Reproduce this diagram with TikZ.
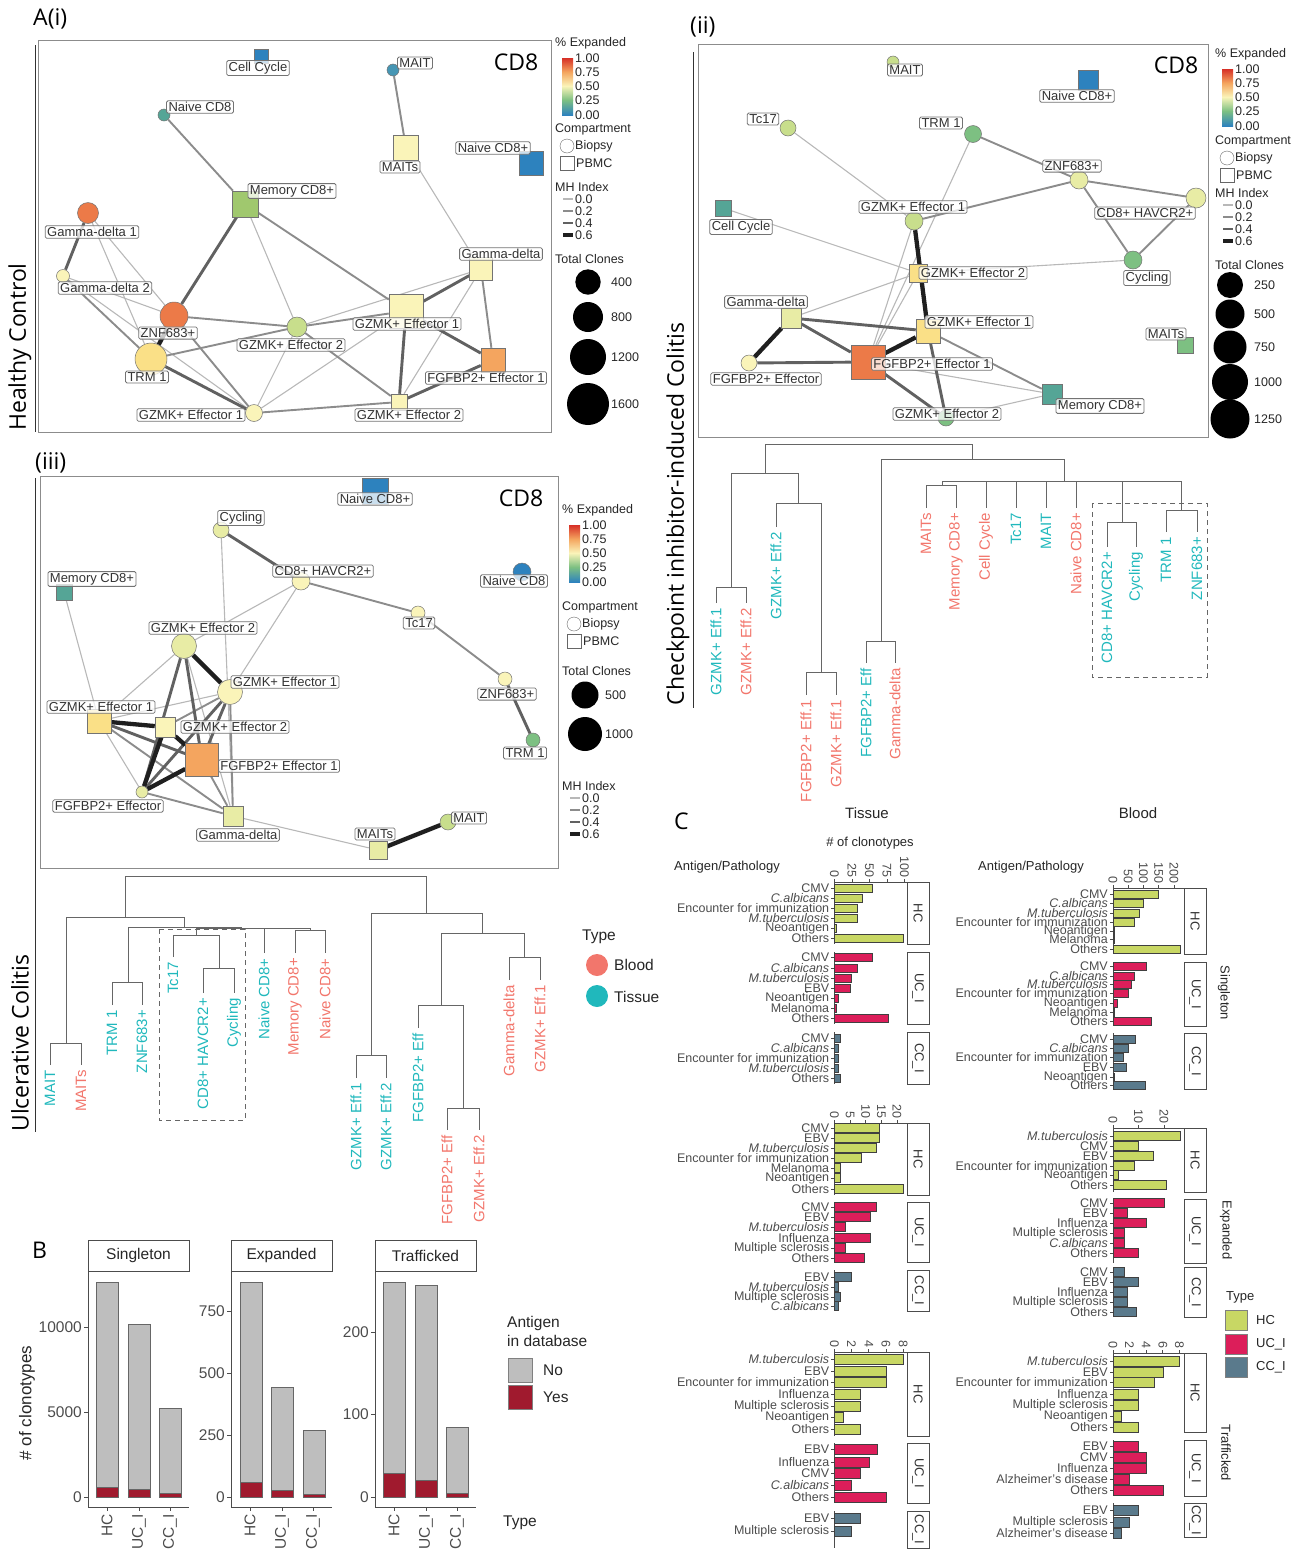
\documentclass[tikz,border=0pt]{standalone}
\usepackage{fontspec}
\setmainfont{Liberation Sans}
\newfontfamily\headfont{Open Sans}
\usetikzlibrary{backgrounds}
\definecolor{sp-blue}{RGB}{45,130,190}
\definecolor{sp-teal}{RGB}{85,165,150}
\definecolor{sp-cyan}{RGB}{70,150,180}
\definecolor{sp-green}{RGB}{125,192,130}
\definecolor{sp-lime}{RGB}{200,222,140}
\definecolor{sp-olive}{RGB}{160,200,110}
\definecolor{sp-pale}{RGB}{232,236,165}
\definecolor{sp-cream}{RGB}{250,244,185}
\definecolor{sp-yellow}{RGB}{250,224,135}
\definecolor{sp-orange}{RGB}{244,165,95}
\definecolor{sp-red}{RGB}{236,122,72}
\definecolor{sp-top}{RGB}{215,48,39}
\definecolor{cus-blood}{RGB}{242,118,108}
\definecolor{cus-tissue}{RGB}{32,184,188}
\definecolor{cus-grey}{RGB}{190,190,190}
\definecolor{cus-wine}{RGB}{160,26,46}
\definecolor{cus-hc}{RGB}{200,215,100}
\definecolor{cus-uc}{RGB}{220,30,90}
\definecolor{cus-cc}{RGB}{90,122,140}

\tikzset{
  bio/.style={circle, draw=black!55, line width=0.5pt, inner sep=0pt, minimum size=#1},
  pbmc/.style={rectangle, draw=black!55, line width=0.5pt, inner sep=0pt, minimum size=#1},
  tag/.style={draw=black!55, line width=0.8pt, rounded corners=1.5pt, fill=white, fill opacity=0.75, text opacity=1,
    inner xsep=2pt, inner ysep=1.5pt, text=black!80, font=\fontsize{13}{13}\selectfont},
  mh0/.style={black!28, line width=1.1pt},
  mh1/.style={black!45, line width=1.9pt},
  mh2/.style={black!62, line width=2.9pt},
  mh3/.style={black!88, line width=4.3pt},
  panel/.style={draw=black!45, line width=0.8pt},
  leg/.style={font=\fontsize{12.5}{13}\selectfont, text=black!85, inner sep=0pt, anchor=west},
  big/.style={font=\headfont\fontsize{23}{24}\selectfont, inner sep=0pt},
  dend/.style={black!60, line width=1pt},
  blood/.style={text=cus-blood, rotate=90, anchor=east, inner sep=0pt, font=\fontsize{15}{15}\selectfont},
  tissue/.style={blood, text=cus-tissue},
  bfont/.style={font=\fontsize{15.5}{16}\selectfont, inner sep=0pt, text=black!85},
  barline/.style={draw=black!75, line width=0.6pt},
  axisline/.style={draw=black!70, line width=0.7pt},
  striplines/.style={draw=black!70, line width=0.9pt, fill=white},
  striptext/.style={rotate=-90, inner sep=0pt, text=black!80, font=\fontsize{13}{13}\selectfont},
  catlab/.style={anchor=east, inner sep=0pt, text=black!70, font=\fontsize{12.5}{13}\selectfont},
  ticklab/.style={rotate=-90, anchor=east, inner sep=0pt, text=black!70, font=\fontsize{12.5}{13}\selectfont},
  ctext/.style={inner sep=0pt, text=black!85, font=\fontsize{13}{13}\selectfont}
}

\newcommand{\expkey}[2]{%
  \begin{scope}[shift={(#1,#2)}]
    \node[leg] at (0,0) {\% Expanded};
    \foreach \ya/\yb/\cola/\colb in {57/72/sp-blue/sp-green, 43/57/sp-green/sp-cream, 29/43/sp-cream/sp-orange, 15/29/sp-orange/sp-top}
      \shade[bottom color=\cola, top color=\colb] (7,\yb) rectangle (18,\ya);
    \foreach \yy/\tx in {15/1.00, 29/0.75, 43/0.50, 57/0.25, 72/0.00}
      \node[leg] at (20,\yy) {\tx};
  \end{scope}}
\newcommand{\compkey}[2]{%
  \begin{scope}[shift={(#1,#2)}]
    \node[leg] at (0,0) {Compartment};
    \draw[black!60] (12,17) circle (7pt);
    \node[leg] at (20,17) {Biopsy};
    \draw[black!60] (5,27) rectangle (19,41);
    \node[leg] at (21,34) {PBMC};
  \end{scope}}
\newcommand{\mhkey}[2]{%
  \begin{scope}[shift={(#1,#2)}]
    \node[leg] at (0,0) {MH Index};
    \foreach \yy/\mhs/\tx in {12/mh0/0.0, 24/mh1/0.2, 36/mh2/0.4, 48/mh3/0.6} {
      \draw[\mhs] (8,\yy) -- (18,\yy);
      \node[leg] at (20,\yy) {\tx};}
  \end{scope}}

\newcommand{\cbar}[3]{%
  \draw[barline, fill=\cfill] (\cbx,#1-\bh) rectangle ({\cbx+#2*\cs},#1+\bh);
  \draw[axisline] (\cbx-3,#1) -- (\cbx,#1);
  \node[catlab] at (\cbx-5,#1) {#3};}
\newcommand{\cstrip}[3]{%
  \draw[axisline] (\cbx,#1) -- (\cbx,#2);
  \draw[striplines] (\cxe,#1) rectangle (\cxe+22,#2);
  \node[striptext] at (\cxe+11,{(#1+#2)/2}) {#3};}
\newcommand{\ctop}[2]{%
  \draw[axisline] (\cbx,#1) -- (\cxe,#1);
  \foreach \tk in {#2} {
    \draw[axisline] ({\cbx+\tk*\cs},#1) -- ({\cbx+\tk*\cs},#1-3);
    \node[ticklab] at ({\cbx+\tk*\cs},#1-4) {\tk};}}

\begin{document}
\begin{tikzpicture}[x=1pt, y=-1pt]
\useasboundingbox (0,0) rectangle (1308,1556);

% titles
\node[big, anchor=west] (t-ai) at (33,19) {A(i)};
\node[big, anchor=west] (t-aii) at (690,27) {(ii)};
\node[big, anchor=west] (t-aiii) at (35,463) {(iii)};
\node[big, anchor=west] (t-b) at (32,1250) {B};
\node[big, anchor=west] (t-c) at (674,821) {C};
\node[big, rotate=90] (t-hc) at (20,347) {Healthy Control};
\node[big, rotate=90] (t-ci) at (678,514) {Checkpoint inhibitor-induced Colitis};
\node[big, rotate=90] (t-uc) at (20,1043) {Ulcerative Colitis};
\draw[black!80, line width=0.8pt] (35,45) -- (35,432);
\draw[black!80, line width=0.8pt] (693,52) -- (693,708);
\draw[black!80, line width=0.8pt] (35,478) -- (35,1132);

% A(i) healthy control
\draw[panel] (38,40) rectangle (551,432);
\node[big] (h-cd8) at (516,62) {CD8};
\node[pbmc=14, fill=sp-blue] (h-cc) at (261,56) {};
\node[bio=12, fill=sp-cyan] (h-mait) at (393,70) {};
\node[bio=12, fill=sp-teal] (h-nv) at (164,115) {};
\node[pbmc=25, fill=sp-cream] (h-maits) at (406,148) {};
\node[pbmc=24, fill=sp-blue] (h-nvp) at (531,163) {};
\node[pbmc=26, fill=sp-olive] (h-mem) at (245,204) {};
\node[bio=21, fill=sp-red] (h-gd1) at (88,213) {};
\node[bio=13, fill=sp-cream] (h-gd2) at (63,276) {};
\node[pbmc=23, fill=sp-cream] (h-gd) at (481,269) {};
\node[bio=28, fill=sp-red] (h-znf) at (174,316) {};
\node[bio=20, fill=sp-lime] (h-gz2c) at (297,327) {};
\node[pbmc=34, fill=sp-cream] (h-gz1p) at (406,311) {};
\node[pbmc=24, fill=sp-orange] (h-fg) at (493,360) {};
\node[bio=32, fill=sp-yellow] (h-trm) at (151,359) {};
\node[bio=17, fill=sp-cream] (h-gz1c) at (254,413) {};
\node[pbmc=16, fill=sp-cream] (h-gz2p) at (399,402) {};
\begin{scope}[on background layer]
\foreach \na/\nb in {h-maits/h-gd, h-mem/h-gz2c, h-gd1/h-znf, h-gd1/h-trm, h-gd2/h-znf, h-gz2c/h-gd, h-gz2c/h-gz1c, h-gz1p/h-gz1c, h-gd/h-gz2p, h-gd2/h-gz1c}
  \draw[mh0] (\na) -- (\nb);
\foreach \na/\nb in {h-mait/h-maits, h-nv/h-mem, h-mem/h-gz1p, h-gd2/h-trm, h-znf/h-gz2c, h-znf/h-gz1c, h-trm/h-gz2c, h-gz2c/h-gz1p, h-gz2c/h-gz2p, h-gd/h-fg, h-gz1c/h-gz2p}
  \draw[mh1] (\na) -- (\nb);
\foreach \na/\nb in {h-mem/h-znf, h-gd1/h-gd2, h-trm/h-gz1c, h-gz1p/h-gd, h-gz1p/h-fg, h-gz1p/h-gz2p, h-fg/h-gz2p}
  \draw[mh2] (\na) -- (\nb);
\draw[mh3] (h-znf) -- (h-trm);
\end{scope}
\node[tag] (h-cc-t) at (258,68) {Cell Cycle};
\node[tag] (h-mait-t) at (415,63) {MAIT};
\node[tag] (h-nv-t) at (200,107) {Naive CD8};
\node[tag] (h-maits-t) at (400,167) {MAITs};
\node[tag] (h-nvp-t) at (493,148) {Naive CD8+};
\node[tag] (h-mem-t) at (292,191) {Memory CD8+};
\node[tag] (h-gd1-t) at (92,232) {Gamma-delta 1};
\node[tag] (h-gd2-t) at (105,288) {Gamma-delta 2};
\node[tag] (h-gd-t) at (501,254) {Gamma-delta};
\node[tag] (h-znf-t) at (168,333) {ZNF683+};
\node[tag] (h-gz2c-t) at (291,345) {GZMK+ Effector 2};
\node[tag] (h-gz1p-t) at (407,324) {GZMK+ Effector 1};
\node[tag] (h-fg-t) at (486,378) {FGFBP2+ Effector 1};
\node[tag] (h-trm-t) at (147,377) {TRM 1};
\node[tag] (h-gz1c-t) at (191,415) {GZMK+ Effector 1};
\node[tag] (h-gz2p-t) at (409,415) {GZMK+ Effector 2};
\expkey{555}{43}
\compkey{555}{129}
\mhkey{555}{187}
\node[leg] (h-tot) at (555,259) {Total Clones};
\foreach \yy/\rr/\tx in {282/12.7/400, 317/15/800, 357/18/1200, 404/21/1600} {
  \fill (588,\yy) circle (\rr pt);
  \node[leg] at (611,\yy) {\tx};}

% A(ii) checkpoint inhibitor colitis
\draw[panel] (698,44) rectangle (1208,437);
\node[big] (c-cd8) at (1176,65) {CD8};
\node[bio=12, fill=sp-lime] (c-mait) at (893,62) {};
\node[pbmc=20, fill=sp-blue] (c-nvp) at (1088,80) {};
\node[bio=16, fill=sp-lime] (c-tc17) at (788,128) {};
\node[bio=17, fill=sp-green] (c-trm) at (973,134) {};
\node[bio=18, fill=sp-pale] (c-znf) at (1079,180) {};
\node[bio=20, fill=sp-pale] (c-hav) at (1196,198) {};
\node[pbmc=16, fill=sp-teal] (c-cc) at (723,208) {};
\node[bio=18, fill=sp-lime] (c-gz1c) at (914,221) {};
\node[bio=18, fill=sp-green] (c-cyc) at (1133,260) {};
\node[pbmc=18, fill=sp-yellow] (c-gz2p) at (918,273) {};
\node[pbmc=20, fill=sp-pale] (c-gd) at (791,318) {};
\node[pbmc=24, fill=sp-yellow] (c-gz1p) at (928,331) {};
\node[pbmc=16, fill=sp-green] (c-maits) at (1185,345) {};
\node[bio=16, fill=sp-cream] (c-fgc) at (749,363) {};
\node[pbmc=34, fill=sp-red] (c-fg) at (868,362) {};
\node[pbmc=20, fill=sp-teal] (c-mem) at (1052,394) {};
\node[bio=16, fill=sp-green] (c-gz2c) at (946,418) {};
\begin{scope}[on background layer]
\foreach \na/\nb in {c-tc17/c-gz1c, c-trm/c-fg, c-cc/c-gz2p, c-gz1c/c-fg, c-gz2p/c-cyc, c-gz2p/c-gd, c-gz2p/c-fg, c-fg/c-mem, c-mem/c-gz2c}
  \draw[mh0] (\na) -- (\nb);
\foreach \na/\nb in {c-znf/c-gz1c, c-znf/c-cyc, c-gz1p/c-mem, c-trm/c-znf, c-znf/c-hav, c-hav/c-cyc}
  \draw[mh1] (\na) -- (\nb);
\foreach \na/\nb in {c-gd/c-fg, c-gd/c-gz1p, c-fgc/c-fg, c-fg/c-gz2c, c-gz1p/c-gz2c}
  \draw[mh2] (\na) -- (\nb);
\foreach \na/\nb in {c-gz1c/c-gz1p, c-gd/c-fgc, c-fg/c-gz1p}
  \draw[mh3] (\na) -- (\nb);
\end{scope}
\node[tag] (c-mait-t) at (905,70) {MAIT};
\node[tag] (c-nvp-t) at (1077,96) {Naive CD8+};
\node[tag] (c-tc17-t) at (763,119) {Tc17};
\node[tag] (c-trm-t) at (941,123) {TRM 1};
\node[tag] (c-znf-t) at (1072,166) {ZNF683+};
\node[tag] (c-hav-t) at (1145,213) {CD8+ HAVCR2+};
\node[tag] (c-cc-t) at (741,227) {Cell Cycle};
\node[tag] (c-gz1c-t) at (913,207) {GZMK+ Effector 1};
\node[tag] (c-cyc-t) at (1147,278) {Cycling};
\node[tag] (c-gz2p-t) at (973,273) {GZMK+ Effector 2};
\node[tag] (c-gd-t) at (766,302) {Gamma-delta};
\node[tag] (c-gz1p-t) at (979,322) {GZMK+ Effector 1};
\node[tag] (c-maits-t) at (1166,334) {MAITs};
\node[tag] (c-fgc-t) at (766,379) {FGFBP2+ Effector};
\node[tag] (c-fg-t) at (932,364) {FGFBP2+ Effector 1};
\node[tag] (c-mem-t) at (1100,406) {Memory CD8+};
\node[tag] (c-gz2c-t) at (947,414) {GZMK+ Effector 2};
\expkey{1215}{54}
\compkey{1215}{141}
\mhkey{1215}{193}
\node[leg] (c-tot) at (1215,265) {Total Clones};
\foreach \yy/\rr/\tx in {285/13/250, 314/14.5/500, 347/16.5/750, 382/18/1000, 419/19.5/1250} {
  \fill (1230,\yy) circle (\rr pt);
  \node[leg] at (1254,\yy) {\tx};}

% checkpoint dendrogram
\draw[dend] (765,473) -- (765,444) -- (972,444) -- (972,459);
\draw[dend] (731,587) -- (731,473) -- (798,473) -- (798,503);
\draw[dend] (716,603) -- (716,587) -- (746,587) -- (746,603);
\draw[dend] (776,527) -- (776,503) -- (821,503) -- (821,672);
\draw[dend] (806,695) -- (806,672) -- (836,672) -- (836,695);
\draw[dend] (881,641) -- (881,459) -- (1064,459) -- (1064,481);
\draw[dend] (866,663) -- (866,641) -- (895,641) -- (895,663);
\draw[dend] (942,485) -- (942,481) -- (1181,481);
\draw[dend] (926,508) -- (926,485) -- (956,485) -- (956,508);
\foreach \xx in {986,1016,1046,1076} \draw[dend] (\xx,481) -- (\xx,508);
\draw[dend] (1122,481) -- (1122,522);
\draw[dend] (1107,547) -- (1107,522) -- (1136,522) -- (1136,547);
\draw[dend] (1181,481) -- (1181,510);
\draw[dend] (1166,532) -- (1166,510) -- (1197,510) -- (1197,532);
\draw[black!60, dashed, dash pattern=on 5pt off 4pt] (1092,503) rectangle (1207,677);
\foreach \xx/\yy/\sty/\tx in {716/608/tissue/GZMK+ Eff.1, 746/608/blood/GZMK+ Eff.2, 776/532/tissue/GZMK+ Eff.2,
  806/700/blood/FGFBP2+ Eff.1, 836/700/blood/GZMK+ Eff.1, 866/668/tissue/FGFBP2+ Eff, 895/668/blood/Gamma-delta,
  926/513/blood/MAITs, 956/513/blood/Memory CD8+, 986/513/blood/Cell Cycle, 1016/513/tissue/Tc17,
  1046/513/tissue/MAIT, 1076/513/blood/Naive CD8+, 1107/552/tissue/CD8+ HAVCR2+, 1136/552/tissue/Cycling,
  1166/537/tissue/TRM 1, 1197/537/tissue/ZNF683+}
  \node[\sty] at (\xx,\yy) {\tx};

% A(iii) ulcerative colitis
\draw[panel] (40,476) rectangle (558,868);
\node[big] (u-cd8) at (521,498) {CD8};
\node[pbmc=26, fill=sp-blue] (u-nvp) at (375,491) {};
\node[bio=16, fill=sp-pale] (u-cyc) at (221,530) {};
\node[bio=18, fill=sp-cream] (u-hav) at (301,581) {};
\node[pbmc=16, fill=sp-teal] (u-mem) at (64,592) {};
\node[bio=18, fill=sp-blue] (u-nv) at (522,572) {};
\node[bio=14, fill=sp-cream] (u-tc17) at (418,613) {};
\node[bio=25, fill=sp-pale] (u-gz2c) at (184,646) {};
\node[bio=25, fill=sp-cream] (u-gz1c) at (230,692) {};
\node[bio=14, fill=sp-cream] (u-znf) at (505,679) {};
\node[pbmc=24, fill=sp-yellow] (u-gz1p) at (99,721) {};
\node[pbmc=20, fill=sp-cream] (u-gz2p) at (165,727) {};
\node[bio=14, fill=sp-green] (u-trm) at (533,740) {};
\node[pbmc=33, fill=sp-orange] (u-fg) at (202,760) {};
\node[bio=12, fill=sp-pale] (u-fgc) at (142,792) {};
\node[pbmc=20, fill=sp-pale] (u-gd) at (233,816) {};
\node[pbmc=18, fill=sp-pale] (u-maits) at (378,850) {};
\node[bio=16, fill=sp-lime] (u-mait) at (448,822) {};
\begin{scope}[on background layer]
\foreach \na/\nb in {u-cyc/u-gd, u-hav/u-gz2c, u-hav/u-gz1c, u-mem/u-gz1p, u-gz2c/u-gz1p, u-gz2c/u-gd, u-gz1c/u-gz1p, u-gz1p/u-fgc, u-gd/u-maits}
  \draw[mh0] (\na) -- (\nb);
\foreach \na/\nb in {u-hav/u-tc17, u-tc17/u-znf, u-gz1c/u-gz2p, u-gz1c/u-gd, u-gz1p/u-gd, u-fg/u-gd, u-fgc/u-gd}
  \draw[mh1] (\na) -- (\nb);
\foreach \na/\nb in {u-cyc/u-hav, u-znf/u-trm, u-gz2c/u-fgc, u-gz2c/u-fg, u-gz1c/u-fg, u-gz1c/u-fgc, u-gz1p/u-fg}
  \draw[mh2] (\na) -- (\nb);
\foreach \na/\nb in {u-gz2c/u-gz1c, u-gz1p/u-gz2p, u-gz2p/u-fg, u-gz2p/u-fgc, u-fg/u-fgc, u-maits/u-mait}
  \draw[mh3] (\na) -- (\nb);
\end{scope}
\node[tag] (u-nvp-t) at (375,499) {Naive CD8+};
\node[tag] (u-cyc-t) at (241,518) {Cycling};
\node[tag] (u-hav-t) at (323,571) {CD8+ HAVCR2+};
\node[tag] (u-mem-t) at (92,579) {Memory CD8+};
\node[tag] (u-nv-t) at (514,581) {Naive CD8};
\node[tag] (u-tc17-t) at (419,623) {Tc17};
\node[tag] (u-gz2c-t) at (203,628) {GZMK+ Effector 2};
\node[tag] (u-gz1c-t) at (285,682) {GZMK+ Effector 1};
\node[tag] (u-znf-t) at (507,694) {ZNF683+};
\node[tag] (u-gz1p-t) at (101,707) {GZMK+ Effector 1};
\node[tag] (u-gz2p-t) at (235,727) {GZMK+ Effector 2};
\node[tag] (u-trm-t) at (525,753) {TRM 1};
\node[tag] (u-fg-t) at (279,766) {FGFBP2+ Effector 1};
\node[tag] (u-fgc-t) at (108,806) {FGFBP2+ Effector};
\node[tag] (u-gd-t) at (238,835) {Gamma-delta};
\node[tag] (u-maits-t) at (375,834) {MAITs};
\node[tag] (u-mait-t) at (469,818) {MAIT};
\expkey{562}{510}
\compkey{562}{607}
\mhkey{562}{786}
\node[leg] (u-tot) at (562,671) {Total Clones};
\foreach \yy/\rr/\tx in {695/13.5/500, 734/17/1000} {
  \fill (585,\yy) circle (\rr pt);
  \node[leg] at (605,\yy) {\tx};}

% ulcerative colitis dendrogram
\draw[dend] (125,917) -- (125,876) -- (426,876) -- (426,913);
\draw[dend] (66,1043) -- (66,917) -- (184,917) -- (184,927);
\draw[dend] (50,1065) -- (50,1043) -- (81,1043) -- (81,1065);
\draw[dend] (128,982) -- (128,927) -- (242,927);
\draw[dend] (112,1005) -- (112,982) -- (142,982) -- (142,1005);
\draw[dend] (196,935) -- (196,928) -- (310,928) -- (310,930);
\draw[dend] (173,957) -- (173,935) -- (219,935) -- (219,968);
\draw[dend] (203,993) -- (203,968) -- (234,968) -- (234,993);
\draw[dend] (264,953) -- (264,928);
\draw[dend] (295,953) -- (295,930) -- (325,930) -- (325,953);
\draw[dend] (371,1055) -- (371,913) -- (482,913) -- (482,933);
\draw[dend] (356,1078) -- (356,1055) -- (386,1055) -- (386,1078);
\draw[dend] (441,1005) -- (441,933) -- (524,933) -- (524,957);
\draw[dend] (418,1028) -- (418,1005) -- (463,1005) -- (463,1108);
\draw[dend] (447,1130) -- (447,1108) -- (479,1108) -- (479,1130);
\draw[dend] (509,980) -- (509,957) -- (540,957) -- (540,980);
\draw[black!60, dashed, dash pattern=on 5pt off 4pt] (159,929) rectangle (245,1120);
\foreach \xx/\yy/\sty/\tx in {50/1070/tissue/MAIT, 81/1070/blood/MAITs, 112/1010/tissue/TRM 1, 142/1010/tissue/ZNF683+,
  173/962/tissue/Tc17, 203/998/tissue/CD8+ HAVCR2+, 234/998/tissue/Cycling, 264/958/tissue/Naive CD8+,
  295/958/blood/Memory CD8+, 325/958/blood/Naive CD8+, 356/1083/tissue/GZMK+ Eff.1, 386/1083/tissue/GZMK+ Eff.2,
  418/1033/tissue/FGFBP2+ Eff, 447/1135/blood/FGFBP2+ Eff, 479/1135/blood/GZMK+ Eff.2, 509/985/blood/Gamma-delta,
  540/985/blood/GZMK+ Eff.1}
  \node[\sty] at (\xx,\yy) {\tx};
\node[bfont, anchor=west] (type-t) at (582,937) {Type};
\fill[cus-blood] (597,965) circle (11pt);
\fill[cus-tissue] (597,996) circle (11pt);
\node[bfont, anchor=west] (blood-t) at (614,965) {Blood};
\node[bfont, anchor=west] (tissue-t) at (614,997) {Tissue};

% B bars
\foreach \sx/\lab in {88/Singleton, 231/Expanded, 375/Trafficked} {
  \draw[black!70, line width=0.8pt] (\sx,1240) rectangle (\sx+101,1271);
  \node[bfont] at (\sx+50.5,1255.5) {\lab};
  \draw[axisline] (\sx,1271) -- (\sx,1507) -- (\sx+101,1507);
  \foreach \bx/\bl in {19/HC, 51/UC\_I, 82/CC\_I} {
    \draw[axisline] (\sx+\bx,1507) -- (\sx+\bx,1511);
    \node[bfont, text=black!70, rotate=90, anchor=east] at (\sx+\bx,1514) {\bl};}
}
\foreach \bx/\tp/\rd in {96/1282/1487, 128/1324/1489, 159/1408/1493, 240/1282/1482, 271/1387/1490, 303/1430/1494, 383/1282/1473, 415/1285/1480, 446/1427/1493} {
  \draw[black!60, fill=cus-grey] (\bx,\tp) rectangle (\bx+22,1497);
  \draw[black!60, fill=cus-wine] (\bx,\rd) rectangle (\bx+22,1497);}
\foreach \sx/\yy/\lab in {88/1497/0, 88/1412/5000, 88/1327/10000, 231/1497/0, 231/1435/250, 231/1373/500, 231/1311/750, 375/1497/0, 375/1414/100, 375/1332/200} {
  \draw[axisline] (\sx-4,\yy) -- (\sx,\yy);
  \node[bfont, text=black!70, anchor=east] at (\sx-6,\yy) {\lab};}
\node[bfont, font=\fontsize{17}{17}\selectfont, rotate=90] (b-ylab) at (27,1403) {\# of clonotypes};
\node[bfont, anchor=west] (b-ant) at (507,1323) {Antigen};
\node[bfont, anchor=west] (b-db) at (507,1341) {in database};
\draw[black!50, fill=cus-grey] (508,1358) rectangle (532,1382);
\draw[black!50, fill=cus-wine] (508,1385) rectangle (532,1409);
\node[bfont, anchor=west] (b-no) at (543,1370) {No};
\node[bfont, anchor=west] (b-yes) at (543,1397) {Yes};
\node[bfont, anchor=west] (b-type) at (503,1523) {Type};

% C antigen bars
\node[ctext, font=\fontsize{15}{15}\selectfont] (c-tis) at (867,813) {Tissue};
\node[ctext, font=\fontsize{15}{15}\selectfont] (c-bld) at (1138,813) {Blood};
\node[ctext] (c-noc) at (870,843) {\# of clonotypes};
\node[ctext] (c-ap1) at (727,867) {Antigen/Pathology};
\node[ctext] (c-ap2) at (1031,867) {Antigen/Pathology};
\node[ctext, rotate=-90] (c-sgl) at (1224,993) {Singleton};
\node[ctext, rotate=-90] (c-exp) at (1226,1230) {Expanded};
\node[ctext, rotate=-90] (c-trf) at (1226,1453) {Trafficked};

\def\cbx{834.4}\def\cxe{907}
\def\cs{0.7}\def\bh{4}
\ctop{882}{0,25,50,75,100}
\def\cfill{cus-hc}\cstrip{882}{944}{HC}
\cbar{888}{54}{CMV}\cbar{898}{40}{\textit{C.albicans}}\cbar{908}{33}{Encounter for immunization}
\cbar{918}{33}{\textit{M.tuberculosis}}\cbar{928}{3}{Neoantigen}\cbar{938}{98}{Others}
\def\cfill{cus-uc}\cstrip{952}{1024}{UC\_I}
\cbar{957}{54}{CMV}\cbar{968}{33}{\textit{C.albicans}}\cbar{978}{24}{\textit{M.tuberculosis}}\cbar{988}{22}{EBV}
\cbar{998}{6}{Neoantigen}\cbar{1008}{2}{Melanoma}\cbar{1018}{77}{Others}
\def\cfill{cus-cc}\cstrip{1032}{1084}{CC\_I}
\cbar{1038}{9}{CMV}\cbar{1048}{6}{\textit{C.albicans}}\cbar{1058}{6}{Encounter for immunization}
\cbar{1068}{5}{\textit{M.tuberculosis}}\cbar{1078}{9}{Others}

\def\cs{3.13}\def\bh{4.3}
\ctop{1123}{0,5,10,15,20}
\def\cfill{cus-hc}\cstrip{1123}{1195}{HC}
\cbar{1128}{14.5}{CMV}\cbar{1138}{14.5}{EBV}\cbar{1148}{13.5}{\textit{M.tuberculosis}}\cbar{1158}{8.5}{Encounter for immunization}
\cbar{1168}{2}{Melanoma}\cbar{1178}{2}{Neoantigen}\cbar{1189}{22}{Others}
\def\cfill{cus-uc}\cstrip{1202}{1262}{UC\_I}
\cbar{1207}{13.5}{CMV}\cbar{1217}{11.5}{EBV}\cbar{1227}{3.5}{\textit{M.tuberculosis}}\cbar{1238}{11.5}{Influenza}
\cbar{1248}{3.5}{Multiple sclerosis}\cbar{1258}{9.5}{Others}
\def\cfill{cus-cc}\cstrip{1270}{1311}{CC\_I}
\cbar{1277}{5.5}{EBV}\cbar{1287}{1.3}{\textit{M.tuberculosis}}\cbar{1297}{2}{Multiple sclerosis}\cbar{1306}{1.3}{\textit{C.albicans}}

\def\cs{8.6}\def\bh{5}
\ctop{1352}{0,2,4,6,8}
\def\cfill{cus-hc}\cstrip{1352}{1436}{HC}
\cbar{1359}{8}{\textit{M.tuberculosis}}\cbar{1371}{6}{EBV}\cbar{1382}{6}{Encounter for immunization}\cbar{1394}{3}{Influenza}
\cbar{1406}{3}{Multiple sclerosis}\cbar{1417}{1}{Neoantigen}\cbar{1429}{3}{Others}
\def\cfill{cus-uc}\cstrip{1443}{1503}{UC\_I}
\cbar{1449}{5}{EBV}\cbar{1462}{4}{Influenza}\cbar{1473}{3}{CMV}\cbar{1485}{2}{\textit{C.albicans}}\cbar{1497}{6}{Others}
\def\cfill{cus-cc}\cstrip{1511}{1548}{CC\_I}
\cbar{1518}{3}{EBV}\cbar{1531}{2}{Multiple sclerosis}

\def\cbx{1113}\def\cxe{1184}
\def\cs{0.305}\def\bh{3.8}
\ctop{888}{0,50,100,150,200}
\def\cfill{cus-hc}\cstrip{888}{954}{HC}
\cbar{894}{147}{CMV}\cbar{903}{98}{\textit{C.albicans}}\cbar{913}{85}{\textit{M.tuberculosis}}\cbar{922}{69}{Encounter for immunization}
\cbar{931}{5}{Neoantigen}\cbar{939}{3}{Melanoma}\cbar{949}{219}{Others}
\def\cfill{cus-uc}\cstrip{962}{1026}{UC\_I}
\cbar{966}{108}{CMV}\cbar{976}{69}{\textit{C.albicans}}\cbar{984}{59}{\textit{M.tuberculosis}}\cbar{993}{49}{Encounter for immunization}
\cbar{1003}{13}{Neoantigen}\cbar{1012}{3}{Melanoma}\cbar{1021}{125}{Others}
\def\cfill{cus-cc}\cstrip{1033}{1089}{CC\_I}
\cbar{1039}{72}{CMV}\cbar{1048}{49}{\textit{C.albicans}}\cbar{1057}{33}{Encounter for immunization}\cbar{1067}{43}{EBV}
\cbar{1077}{3}{Neoantigen}\cbar{1085}{105}{Others}

\def\cs{2.55}\def\bh{4.3}
\ctop{1128}{0,10,20}
\def\cfill{cus-hc}\cstrip{1128}{1192}{HC}
\cbar{1136}{26.5}{\textit{M.tuberculosis}}\cbar{1146}{10}{CMV}\cbar{1156}{15.7}{EBV}\cbar{1166}{8.3}{Encounter for immunization}
\cbar{1175}{2}{Neoantigen}\cbar{1185}{21}{Others}
\def\cfill{cus-uc}\cstrip{1199}{1263}{UC\_I}
\cbar{1203}{20}{CMV}\cbar{1213}{5.5}{EBV}\cbar{1223}{13}{Influenza}\cbar{1233}{4.5}{Multiple sclerosis}
\cbar{1243}{4.5}{\textit{C.albicans}}\cbar{1253}{10}{Others}
\def\cfill{cus-cc}\cstrip{1267}{1317}{CC\_I}
\cbar{1272}{4.5}{CMV}\cbar{1282}{10}{EBV}\cbar{1292}{5.5}{Influenza}\cbar{1302}{5.5}{Multiple sclerosis}\cbar{1312}{9}{Others}

\def\cs{8.3}\def\bh{5}
\ctop{1353}{0,2,4,6,8}
\def\cfill{cus-hc}\cstrip{1353}{1432}{HC}
\cbar{1361}{8}{\textit{M.tuberculosis}}\cbar{1372}{6}{EBV}\cbar{1382}{5}{Encounter for immunization}\cbar{1394}{3}{Influenza}
\cbar{1405}{3}{Multiple sclerosis}\cbar{1416}{1}{Neoantigen}\cbar{1427}{3}{Others}
\def\cfill{cus-uc}\cstrip{1440}{1496}{UC\_I}
\cbar{1446}{3}{EBV}\cbar{1457}{4}{CMV}\cbar{1468}{4}{Influenza}\cbar{1479}{2}{Alzheimer's disease}\cbar{1490}{6}{Others}
\def\cfill{cus-cc}\cstrip{1503}{1537}{CC\_I}
\cbar{1510}{3}{EBV}\cbar{1522}{2}{Multiple sclerosis}\cbar{1533}{1}{Alzheimer's disease}

\node[ctext, anchor=west] (c-type) at (1226,1297) {Type};
\foreach \yy/\cc/\tx in {1310/cus-hc/HC, 1334/cus-uc/UC\_I, 1357/cus-cc/CC\_I} {
  \draw[black!50, fill=\cc] (1225,\yy) rectangle (1247,\yy+20);
  \node[ctext, anchor=west] at (1256,\yy+10) {\tx};}
\end{tikzpicture}
\end{document}
